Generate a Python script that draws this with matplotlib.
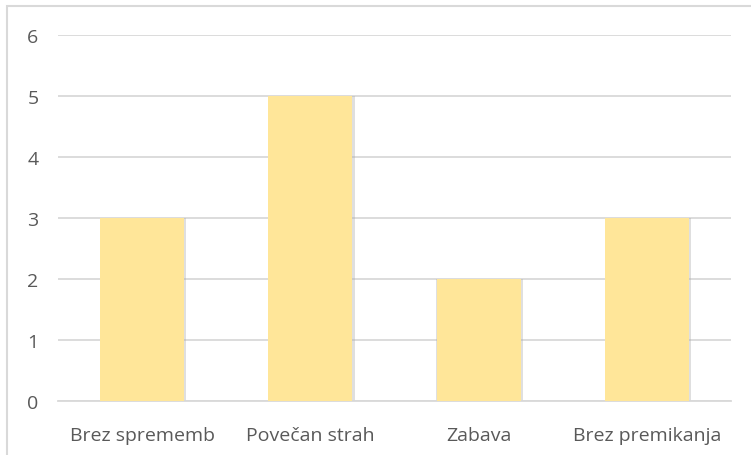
import matplotlib
matplotlib.use("Agg")
import matplotlib.pyplot as plt
from matplotlib.patches import Rectangle

categories = ["Brez sprememb", "Povečan strah", "Zabava", "Brez premikanja"]
values = [3, 5, 2, 3]
yticks = [0, 1, 2, 3, 4, 5, 6]

plt.rcParams['font.family'] = ['Open Sans', 'DejaVu Sans']

W, H = 751, 456
fig = plt.figure(figsize=(W/100, H/100), dpi=100)
fig.patch.set_facecolor('white')

# outer chart border (top/left visible; right/bottom run off the image)
fig.add_artist(Rectangle((7/W, -0.05), 1.2, 1 - 7/H + 0.05, transform=fig.transFigure,
                         fill=False, edgecolor='#d9d9d9', linewidth=1.5))

ax = fig.add_axes([58/W, 1 - 402/H, (731-58)/W, (402-36)/H])
x = list(range(len(categories)))
# soft shadow
ax.bar([i + 0.006 for i in x], values, width=0.515, color='#a6a6a6', alpha=0.35, zorder=2)
ax.bar(x, values, width=0.5, color='#FFE699', zorder=3)

ax.set_xlim(-0.5, len(categories) - 0.5)
ax.set_ylim(0, 6)
ax.set_yticks(yticks)
ax.set_xticks(x)
ax.set_xticklabels(categories)
ax.grid(axis='y', color='#d9d9d9', linewidth=1.3, zorder=0)
ax.set_axisbelow(True)
for s in ['top', 'right', 'left']:
    ax.spines[s].set_visible(False)
ax.spines['bottom'].set_color('#d9d9d9')
ax.spines['bottom'].set_linewidth(1.3)
ax.tick_params(axis='both', length=0, labelsize=14, labelcolor='#595959')
ax.tick_params(axis='y', pad=14)
ax.tick_params(axis='x', pad=18)

fig.savefig('out.png', dpi=100)
